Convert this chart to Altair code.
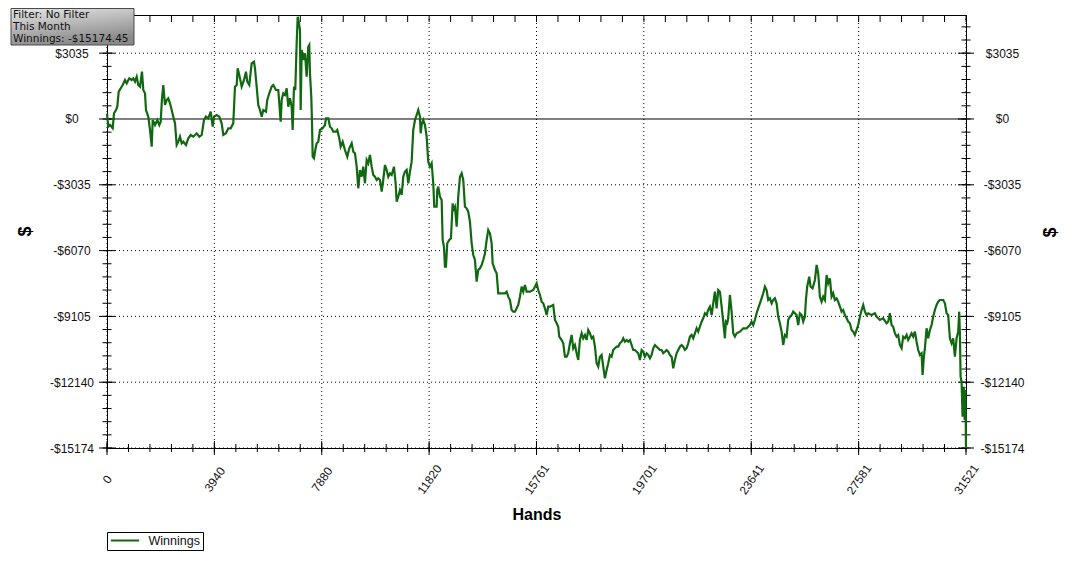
import altair as alt
import pandas as pd

# ---------------- data ----------------
hands = [
    0, 48, 110, 209, 257, 330, 378, 429, 503, 576,
    660, 723, 818, 906, 965, 1027, 1090, 1148, 1211, 1284,
    1332, 1394, 1431, 1515, 1578, 1640, 1677, 1761, 1846, 1919,
    1970, 2018, 2066, 2128, 2190, 2249, 2311, 2374, 2433, 2495,
    2557, 2616, 2678, 2741, 2799, 2899, 2983, 3071, 3166, 3291,
    3387, 3475, 3559, 3632, 3717, 3805, 3878, 3926, 4025, 4120,
    4208, 4267, 4366, 4451, 4539, 4634, 4696, 4759, 4795, 4854,
    4942, 5027, 5100, 5148, 5221, 5309, 5393, 5430, 5492,
    5551, 5614, 5676, 5735, 5834, 5881, 5955, 6043, 6102, 6201,
    6285, 6373, 6410, 6468, 6531, 6593, 6652, 6714, 6777, 6813,
    6861, 6909, 6960, 6997, 7044, 7081, 7107, 7144, 7202, 7265,
    7327, 7386, 7422, 7448, 7496, 7521, 7547, 7595, 7643, 7694,
    7753, 7815, 7914, 7998, 8035, 8120, 8182, 8244, 8303, 8402,
    8450, 8523, 8575, 8648, 8732, 8817, 8890, 8978, 9037, 9099,
    9162, 9220, 9283, 9345, 9404, 9466, 9528, 9587, 9649, 9712,
    9771, 9833, 9895, 9954, 10016, 10079, 10137, 10200, 10262, 10321,
    10383, 10446, 10530, 10592, 10629, 10688, 10750, 10813, 10871, 10934,
    10996, 11055, 11117, 11180, 11238, 11301, 11363, 11422, 11484, 11510,
    11546, 11605, 11667, 11730, 11789, 11851, 11913, 11972, 12009, 12097,
    12119, 12155, 12218, 12280, 12317, 12365, 12401, 12438, 12486, 12559,
    12621, 12684, 12706, 12768, 12831, 12889, 12952, 13014, 13073, 13135,
    13197, 13256, 13318, 13381, 13440, 13502, 13564, 13623, 13685, 13748,
    13806, 13869, 13931, 13990, 14052, 14115, 14151, 14236, 14298, 14357,
    14482, 14603, 14665, 14724, 14786, 14848, 14907, 14970, 15032, 15091,
    15153, 15215, 15274, 15336, 15399, 15520, 15641, 15703, 15766, 15824,
    15887, 15949, 16008, 16070, 16133, 16191, 16254, 16375, 16437, 16500,
    16558, 16595, 16683, 16742, 16804, 16867, 16925, 16987, 17050, 17109,
    17171, 17233, 17292, 17354, 17417, 17475, 17538, 17600, 17659, 17721,
    17784, 17842, 17905, 17967, 18026, 18088, 18150, 18209, 18272, 18334,
    18393, 18455, 18517, 18576, 18639, 18701, 18760, 18822, 18884, 18943,
    19005, 19068, 19127, 19189, 19251, 19310, 19372, 19435, 19494, 19556,
    19618, 19677, 19739, 19802, 19860, 19923, 19985, 20044, 20106, 20169,
    20227, 20290, 20352, 20411, 20473, 20535, 20594, 20656, 20719, 20778,
    20840, 20902, 20961, 21023, 21086, 21145, 21207, 21269, 21328, 21390,
    21453, 21511, 21574, 21636, 21695, 21757, 21820, 21878, 21941, 22003,
    22062, 22124, 22187, 22245, 22308, 22370, 22429, 22491, 22554, 22612,
    22674, 22711, 22759, 22795, 22858, 22920, 22979, 23041, 23104, 23225,
    23346, 23470, 23592, 23654, 23713, 23775, 23838, 23896, 23959, 24021,
    24080, 24142, 24204, 24263, 24325, 24388, 24447, 24509, 24571, 24630,
    24692, 24755, 24813, 24876, 24938, 24997, 25059, 25122, 25180, 25243,
    25305, 25364, 25426, 25489, 25547, 25610, 25646, 25694, 25767, 25819,
    25892, 25977, 26039, 26098, 26160, 26222, 26281, 26343, 26406, 26464,
    26527, 26589, 26648, 26710, 26773, 26831, 26894, 26956, 27015, 27077,
    27140, 27198, 27261, 27323, 27382, 27444, 27506, 27565, 27628, 27690,
    27749, 27811, 27873, 27932, 28057, 28178, 28241, 28299, 28361, 28483,
    28607, 28666, 28728, 28791, 28849, 28912, 28974, 29033, 29095, 29158,
    29216, 29279, 29341, 29400, 29462, 29524, 29583, 29646, 29708, 29767,
    29829, 29891, 29928, 29976, 30012, 30075, 30134, 30196, 30258, 30317,
    30379, 30442, 30500, 30563, 30684, 30747, 30809, 30868, 30930, 30992,
    31051, 31113, 31176, 31235, 31271, 31297, 31322, 31359, 31396, 31443,
    31470, 31500, 31521,
]

winnings = [
    250, -355, -277, -429, 263, 415, 567, 1259, 1416, 1568,
    1799, 1646, 1877, 1799, 1877, 1720, 1951, 1568, 1490, 2181,
    1337, 1185, 415, 106, -507, -1278, -46, -277, -46, -277,
    -125, 955, 1568, 646, 876, 955, 724, 415, 106, -198,
    -1199, -1047, -816, -1121, -1047, -1199, -890, -738, -816, -660,
    -816, -738, -46, 106, 32, 337, -355, 106, 184, 106,
    -198, -738, -660, -429, -429, -198, 1490, 1568, 2338, 2029,
    1490, 1799, 2181, 1720, 1568, 2569, 2643, 2338, 1490,
    646, 415, 106, 415, 337, 876, 1185, 1490, 1568, 1337,
    1337, -125, 876, 1185, 1107, 1416, 567, 955, 567, -507,
    1490, 1337, 3491, 4718, 4414, 4105, 415, 3182, 2721, 3030,
    1951, 3334, 3413, 2108, 1028, -46, -1739, -1813, -1430, -1121,
    -1047, -507, -429, -277, 32, 32, -355, -429, -586, -586,
    -507, -890, -1278, -1047, -1430, -1739, -1351, -1121, -1508, -1582,
    -2200, -3196, -2352, -2661, -2200, -2965, -1891, -2043, -1660, -2200,
    -2583, -2661, -2813, -2735, -2813, -3353, -2813, -2122, -2352, -2661,
    -2504, -2583, -2200, -2965, -3814, -3584, -3275, -3505, -2661, -2431,
    -2352, -2965, -2431, -1969, -507, -46, 184, 415, 106, -660,
    -277, -46, -277, -816, -1969, -2200, -2043, -2965, -4045, -4045,
    -3275, -3122, -3584, -3736, -5581, -5890, -6812, -6812, -5733, -5581,
    -5502, -3888, -4197, -4045, -4967, -3584, -2661, -2504, -2813, -4045,
    -4119, -4275, -4736, -5733, -6272, -6503, -7504, -6964, -6886, -6734,
    -6503, -6194, -5581, -5119, -5272, -5733, -6655, -6964, -7116, -8039,
    -8039, -8039, -7965, -8196, -8348, -8809, -8887, -8887, -8731, -8578,
    -8196, -7734, -7965, -7656, -7965, -7965, -7887, -7734, -7577, -7887,
    -8117, -8426, -8500, -8731, -9040, -8657, -8657, -8578, -9270, -9422,
    -9579, -10040, -10193, -10345, -10963, -10963, -10806, -10345, -9962, -10575,
    -10423, -10806, -11115, -10193, -9884, -10114, -9962, -10193, -9731, -9884,
    -10114, -10040, -10501, -11267, -11424, -10963, -10884, -11424, -11959, -11576,
    -11267, -10884, -10963, -10654, -10575, -10501, -10501, -10345, -10271, -10114,
    -10271, -10193, -10271, -10193, -10423, -10654, -10654, -10732, -10806, -11115,
    -10654, -10732, -10963, -10806, -10884, -11037, -10884, -10575, -10423, -10501,
    -10575, -10654, -10654, -10806, -10732, -10654, -10732, -10884, -10963, -11498,
    -11115, -10806, -10654, -10501, -10423, -10501, -10654, -10575, -10345, -10040,
    -9962, -10114, -9884, -9653, -9810, -9579, -9348, -9192, -8961, -9040,
    -8809, -8657, -9040, -8500, -7965, -8731, -7887, -7965, -8657, -9348,
    -10114, -9348, -9422, -9192, -8117, -8887, -9884, -10040, -9884, -9810,
    -9653, -9653, -9501, -9348, -9501, -9270, -8961, -8731, -8500, -8269,
    -8039, -7734, -7887, -8348, -8269, -8500, -8348, -8269, -8500, -9118,
    -9422, -9810, -10423, -9962, -10040, -9270, -9118, -9040, -8887, -8961,
    -9040, -9501, -8961, -9040, -9348, -9118, -8348, -7734, -7273, -7734,
    -7808, -7425, -6734, -7116, -8196, -8426, -8196, -8348, -7195, -7577,
    -7347, -8196, -8039, -8348, -8269, -8426, -8657, -8887, -8809, -9040,
    -9192, -9348, -9422, -9731, -9810, -9962, -9731, -9501, -9118, -8809,
    -8578, -8887, -9040, -8961, -9040, -8961, -9118, -9192, -9270, -9192,
    -9422, -9348, -8961, -9501, -9579, -9884, -10040, -9962, -10423, -10575,
    -10040, -10114, -9962, -10193, -10040, -9884, -10040, -9810, -10271, -10654,
    -10884, -10806, -11807, -10963, -10575, -9653, -10114, -9731, -9501, -9118,
    -8809, -8578, -8426, -8348, -8348, -8500, -8961, -9040, -10114, -10345,
    -10114, -10963, -10114, -9810, -8887, -9884, -11885, -12116, -13730, -12346,
    -13882, -12499, -15174.45,
]

x_major = [0, 3940, 7880, 11820, 15761, 19701, 23641, 27581, 31521]
y_major = [3035, 0, -3035, -6070, -9105, -12140, -15174.45]
info_lines = ["Filter: No Filter", "This Month", "Winnings: -$15174.45"]
series_name = "Winnings"
x_title = "Hands"
y_title = "$"

# ---------------- layout / style ----------------
W, H = 859, 433
X_MAX = 31521
Y_MIN, Y_MAX = -15174.45, 4796
GREEN = "#106810"
FONT = "Liberation Sans"

x_minor = [X_MAX * k / 40 for k in range(41)]
y_minor = [Y_MIN * k / 25 for k in range(-7, 26)]


def xs():
    return alt.Scale(domain=[0, X_MAX], nice=False, zero=False)


def ys():
    return alt.Scale(domain=[Y_MIN, Y_MAX], nice=False, zero=False)


money = "datum.value < 0 ? '-$' + format(-datum.value, 'd') : '$' + format(datum.value, 'd')"

common_y_axis = dict(
    values=y_major, labelExpr=money, ticks=False, tickSize=0, domain=False,
    grid=False, labelAlign="center", labelBaseline="middle", labelFont=FONT,
    labelFontSize=12, labelColor="#111", labelFlush=False, labelOverlap=False,
    title=y_title, titleAngle=270, titleAlign="center", titleBaseline="middle",
    titleFont=FONT, titleFontSize=18, titleFontWeight="bold", titleColor="black",
)
left_axis = alt.Axis(orient="left", labelPadding=35.5, titleX=-82, titleY=216,
                     **common_y_axis)
right_axis = alt.Axis(orient="right", labelPadding=36, titleX=84, titleY=217,
                      **common_y_axis)
x_axis = alt.Axis(
    orient="bottom", values=x_major, format="d", ticks=False, tickSize=0,
    domain=False, grid=False, labelAngle=305, labelAlign="center",
    labelBaseline="middle", labelPadding=31, labelFont=FONT, labelFontSize=12,
    labelColor="#111", labelFlush=False, labelOverlap=False,
    title=x_title, titleX=W / 2, titleY=66, titleAlign="center",
    titleBaseline="middle", titleFont=FONT, titleFontSize=16,
    titleFontWeight="bold", titleColor="black",
)

df_line = pd.DataFrame({"hand": hands, "win": winnings, "series": series_name})
df_xmaj = pd.DataFrame({"v": x_major})
df_ymaj = pd.DataFrame({"v": y_major})
df_xmin = pd.DataFrame({"v": x_minor})
df_ymin = pd.DataFrame({"v": y_minor})

dotted = dict(color="black", strokeDash=[1, 3], strokeWidth=1)

grid_v = alt.Chart(df_xmaj).mark_rule(**dotted).encode(
    x=alt.X("v:Q", scale=xs(), axis=None), y=alt.value(0), y2=alt.value(H))
grid_h = alt.Chart(df_ymaj).transform_filter("datum.v != 0").mark_rule(**dotted).encode(
    y=alt.Y("v:Q", scale=ys(), axis=None), x=alt.value(0), x2=alt.value(W))
zero_line = alt.Chart(pd.DataFrame({"v": [0]})).mark_rule(color="black", strokeWidth=1).encode(
    y=alt.Y("v:Q", scale=ys(), axis=None), x=alt.value(0), x2=alt.value(W))


def yticks(df, x0, x1, axis=None):
    return alt.Chart(df).mark_rule(color="black", strokeWidth=1).encode(
        y=alt.Y("v:Q", scale=ys(), axis=axis), x=alt.value(x0), x2=alt.value(x1))


def xticks(df, y0, y1):
    return alt.Chart(df).mark_rule(color="black", strokeWidth=1).encode(
        x=alt.X("v:Q", scale=xs(), axis=None), y=alt.value(y0), y2=alt.value(y1))


line = alt.Chart(df_line).mark_line(strokeWidth=2.2, strokeJoin="miter").encode(
    x=alt.X("hand:Q", scale=xs(), axis=x_axis),
    y=alt.Y("win:Q", scale=ys(), axis=left_axis),
    color=alt.Color(
        "series:N",
        scale=alt.Scale(range=[GREEN]),
        legend=alt.Legend(
            title=None, orient="none", legendX=0, legendY=517,
            symbolType="stroke", symbolStrokeWidth=2, symbolSize=800,
            clipHeight=12, strokeColor="black", fillColor="white", padding=2.5,
            labelFont=FONT, labelFontSize=12.5, labelColor="#111",
            labelOffset=8, cornerRadius=0,
        ),
    ),
)

box = alt.Chart(pd.DataFrame({"b": [1]})).mark_rect(
    fill=alt.LinearGradient(
        gradient="linear",
        stops=[alt.GradientStop(offset=0, color="#e6e6e6"),
               alt.GradientStop(offset=1, color="#8a8a8a")],
        x1=0, y1=0, x2=0.35, y2=1,
    ),
    stroke="#4a4a4a", strokeWidth=1,
).encode(x=alt.value(-96), x2=alt.value(27), y=alt.value(-6.5), y2=alt.value(30))

info = alt.Chart(pd.DataFrame({"t": ["\n".join(info_lines)]})).mark_text(
    align="left", baseline="top", lineBreak="\n", lineHeight=12,
    font="DejaVu Sans", fontSize=10.5, color="#111",
).encode(x=alt.value(-94), y=alt.value(-5.5), text="t:N")

chart = alt.layer(
    grid_v, grid_h, zero_line,
    yticks(df_ymaj, -8, 8), yticks(df_ymin, -4.5, 4.5),
    yticks(df_ymaj, W - 8, W + 8, axis=right_axis), yticks(df_ymin, W - 4.5, W + 4.5),
    xticks(df_xmaj, H - 7, H + 7), xticks(df_xmin, H - 4, H + 4), xticks(df_xmin, 0, 7),
    line, box, info,
).resolve_scale(
    x="independent", y="independent"
).properties(
    width=W, height=H,
    padding={"left": 99, "top": 7, "right": 98, "bottom": 104},
    autosize=alt.AutoSizeParams(type="none"),
    background="white",
).configure_view(stroke="black", strokeWidth=1)

chart.save("out.html", embed_options={"renderer": "svg", "actions": False})
